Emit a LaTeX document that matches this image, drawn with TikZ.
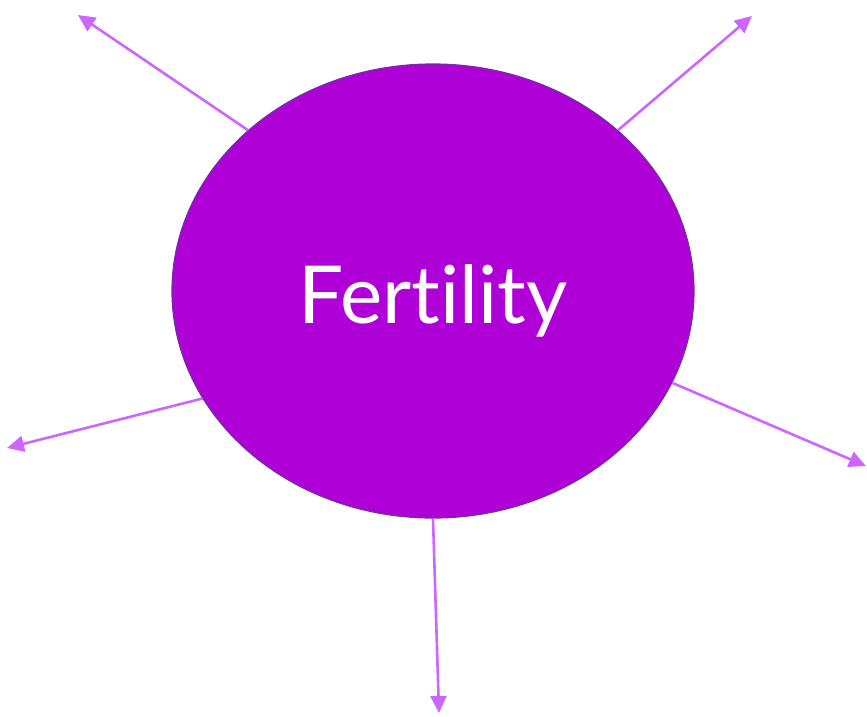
\documentclass[tikz,border=0pt]{standalone}
\usepackage{fontspec}
\setmainfont{Lato}[Ligatures={NoCommon,NoRequired,NoContextual}]
\usetikzlibrary{shapes.geometric, arrows.meta}

\definecolor{fertfill}{HTML}{AF00D7}
\definecolor{fertline}{HTML}{7030A0}
\definecolor{arrcol}{HTML}{CC66FF}

\begin{document}
\begin{tikzpicture}[
  x=1pt, y=-1pt,
  hub/.style={
    ellipse, draw=fertline, fill=fertfill, line width=1.2pt,
    minimum width=522pt, minimum height=454pt, inner sep=0pt,
    text=white, font=\fontsize{80}{96}\selectfont
  },
  arr/.style={-{Triangle[length=17pt, width=16pt]}, draw=arrcol, line width=2.6pt}
]
  \useasboundingbox (0,0) rectangle (867,716);

  % Nodes
  \node[hub] (fert) at (433,291) {\raisebox{-10pt}[\height][\depth]{Fert\kern0ptility}};

  % Arrow ends
  \coordinate (tl) at (78,15);
  \coordinate (tr) at (752,16);
  \coordinate (ml) at (7,448);
  \coordinate (mr) at (866,466);
  \coordinate (bt) at (439,713);

  % Arrows
  \draw[arr] (fert.139) -- (tl);
  \draw[arr] (fert.41)  -- (tr);
  \draw[arr] (fert.205) -- (ml);
  \draw[arr] (fert.339) -- (mr);
  \draw[arr] (fert.270) -- (bt);
\end{tikzpicture}
\end{document}
